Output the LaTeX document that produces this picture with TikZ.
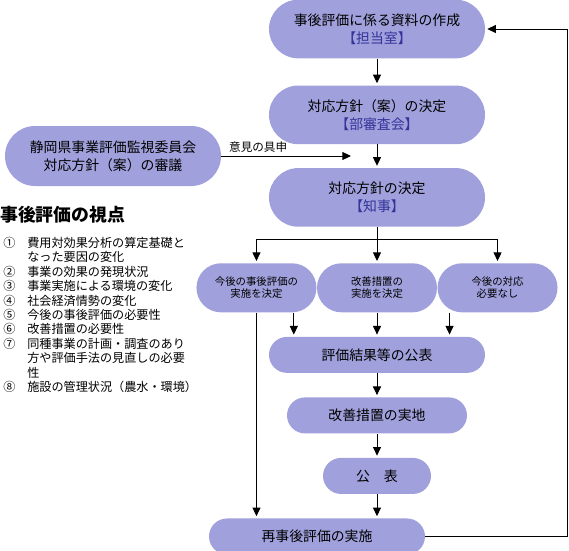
\documentclass[tikz,border=0pt]{standalone}
\usepackage{fontspec}
\setmainfont{Noto Sans CJK JP}
\usetikzlibrary{positioning,arrows.meta,calc}
\definecolor{pillblue}{RGB}{160,160,220}
\definecolor{deptblue}{RGB}{51,51,153}
\newcommand{\numbox}[1]{\makebox[18pt][l]{#1}}

\begin{document}
\begin{tikzpicture}[
    x=0.75pt, y=-0.75pt,
    >={Triangle[length=6.5pt,width=6pt]},
    every node/.style={align=center, inner sep=0pt},
    block/.style={
        fill=pillblue,
        rounded corners=22pt,
        minimum width=162pt,
        minimum height=44pt,
        font=\fontsize{10.4}{13.5}\selectfont
    },
    stage/.style={
        fill=pillblue,
        rounded corners=13.5pt,
        minimum height=27pt,
        font=\fontsize{10.4}{13.5}\selectfont
    },
    choice/.style={
        fill=pillblue,
        rounded corners=18.4pt,
        minimum width=90pt,
        minimum height=36.8pt,
        font=\fontsize{7.8}{8.8}\selectfont
    },
    flow/.style={->, line width=0.75pt, shorten >=1.5pt}
]
\useasboundingbox (0,0) rectangle (569,551);

% main column
\node[block] (draft) at (377,29) {事後評価に係る資料の作成\\\textcolor{deptblue}{【担当室】}};
\node[block, below=20pt of draft] (deptreview) {対応方針（案）の決定\\\textcolor{deptblue}{【部審査会】}};
\node[block, below=17.5pt of deptreview] (decision) {対応方針の決定\\\textcolor{deptblue}{【知事】}};
\node[block, minimum height=45pt, rounded corners=22.5pt] (council) at (113,156) {静岡県事業評価監視委員会\\対応方針（案）の審議};

\coordinate[below=9pt of decision] (split);
\coordinate (merge) at ($(council.east -| deptreview.south)+(-18pt,0)$);

% three outcomes
\node[choice, below=27pt of decision] (improve) {改善措置の\\実施を決定};
\node[choice, left=0pt of improve] (reeval) {今後の事後評価の\\実施を決定};
\node[choice, right=0pt of improve] (noaction) {今後の対応\\必要なし};

\node[stage, minimum width=162pt, below=18pt of improve] (publish) {評価結果等の公表};
\node[stage, minimum width=135pt, below=18pt of publish] (improvework) {改善措置の実地};
\node[stage, minimum width=81pt, below=18pt of improvework] (announce) {公　表};
\node[stage, minimum width=162pt, below=18pt of announce, xshift=-45pt] (rerun) {再事後評価の実施};

% views
\node[anchor=west, font=\fontsize{13.4}{16}\selectfont\bfseries] (viewtitle) at (0,215) {事後評価の視点};
\node[anchor=north west, align=left, font=\fontsize{9.1}{10.8}\selectfont] (viewlist) at (3,237) {%
\numbox{①}費用対効果分析の算定基礎と\\
\numbox{}なった要因の変化\\
\numbox{②}事業の効果の発現状況\\
\numbox{③}事業実施による環境の変化\\
\numbox{④}社会経済情勢の変化\\
\numbox{⑤}今後の事後評価の必要性\\
\numbox{⑥}改善措置の必要性\\
\numbox{⑦}同種事業の計画・調査のあり\\
\numbox{}方や評価手法の見直しの必要\\
\numbox{}性\\
\numbox{⑧}施設の管理状況（農水・環境）};

\draw[flow] (draft) -- (deptreview);
\draw[flow] (deptreview) -- (decision);
\draw[flow] (council.east) -- node[above=2pt, pos=0.28, font=\fontsize{8.7}{10}\selectfont] (advice) {意見の具申} (merge);

\draw[line width=0.75pt] (decision) -- (split);
\draw[flow] (split) -| (reeval);
\draw[flow] (split) -- (improve);
\draw[flow] (split) -| (noaction);

\draw[flow] ([xshift=28pt]reeval.south) -- ([xshift=28pt]reeval.south |- publish.north);
\draw[flow] (improve) -- (publish);
\draw[flow] ([xshift=-36pt]noaction.south) -- ([xshift=-36pt]noaction.south |- publish.north);
\draw[flow] (reeval.south) -- (reeval.south |- rerun.north);

\draw[flow] (publish) -- (improvework);
\draw[flow] (improvework) -- (announce);
\draw[flow] (announce.south) -- (announce.south |- rerun.north);
\draw[flow] (rerun.east) -| ([xshift=61.5pt]draft.east) -- (draft.east);
\end{tikzpicture}
\end{document}
